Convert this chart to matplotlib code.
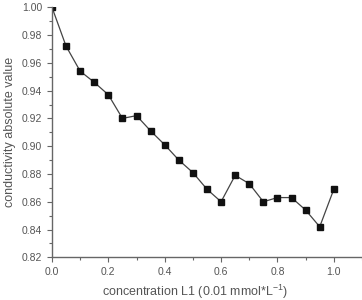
import matplotlib
matplotlib.use("Agg")
import matplotlib.pyplot as plt
from matplotlib.ticker import MultipleLocator

concentration = [0.0, 0.05, 0.1, 0.15, 0.2, 0.25, 0.3, 0.35, 0.4, 0.45, 0.5,
                 0.55, 0.6, 0.65, 0.7, 0.75, 0.8, 0.85, 0.9, 0.95, 1.0]
conductivity = [1.000, 0.972, 0.954, 0.946, 0.937, 0.920, 0.922, 0.911, 0.901, 0.890, 0.881,
                0.869, 0.860, 0.879, 0.873, 0.860, 0.863, 0.863, 0.854, 0.842, 0.869]
xticks = [0.0, 0.2, 0.4, 0.6, 0.8, 1.0]
yticks = [0.82, 0.84, 0.86, 0.88, 0.90, 0.92, 0.94, 0.96, 0.98, 1.00]

plt.rcParams['font.family'] = ['Liberation Sans', 'DejaVu Sans']
plt.rcParams['mathtext.fontset'] = 'custom'
plt.rcParams['mathtext.rm'] = 'Liberation Sans'
gray = '#666666'

fig = plt.figure(figsize=(3.62, 3.0), dpi=100)
ax = fig.add_axes([0.1436, 0.1423, 0.8564, 0.8334])
ax.plot(concentration, conductivity, color='#444444', lw=0.9, marker='s',
        markersize=4.5, markerfacecolor='#111111', markeredgecolor='#111111')
ax.set_xlim(0, 1.1)
ax.set_ylim(0.82, 1.00)
ax.set_xticks(xticks)
ax.set_xticklabels([f"{v:.1f}" for v in xticks])
ax.set_yticks(yticks)
ax.set_yticklabels([f"{v:.2f}" for v in yticks])
ax.xaxis.set_minor_locator(MultipleLocator(0.1))
ax.yaxis.set_minor_locator(MultipleLocator(0.01))
for s in ['top', 'right']:
    ax.spines[s].set_visible(False)
for s in ['left', 'bottom']:
    ax.spines[s].set_color(gray)
    ax.spines[s].set_linewidth(1.0)
ax.tick_params(which='major', length=3.5, width=0.8, color=gray, labelcolor='#555555', labelsize=7.5)
ax.tick_params(which='minor', length=2, width=0.8, color=gray)
ax.set_xlabel(r'concentration L1 (0.01 mmol*L$^{\mathrm{-1}}$)', color='#555555', fontsize=9, labelpad=3)
ax.xaxis.set_label_coords(0.461, -0.1)
ax.set_ylabel('conductivity absolute value', color='#555555', fontsize=9, labelpad=4)
fig.savefig('out.png', dpi=100, facecolor='white')
